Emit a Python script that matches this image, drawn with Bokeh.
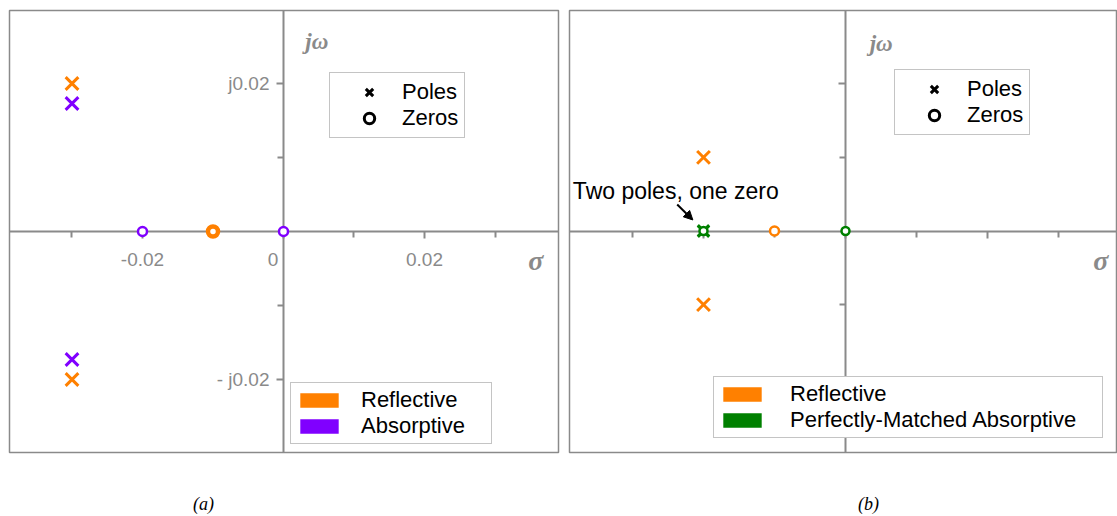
from bokeh.plotting import figure
from bokeh.models import (Range1d, LinearAxis, FixedTicker, Legend, LegendItem,
                          Label, Arrow, NormalHead)
from bokeh.layouts import row, column
from bokeh.embed import file_html
from bokeh.resources import INLINE

NAN = float("nan")

# ---------------- data ----------------
# panel (a)
refl_a_pole_x = [-0.03, -0.03]
refl_a_pole_y = [0.02, -0.02]
refl_a_zero_x = [-0.01]
refl_a_zero_y = [0.0]
abs_a_pole_x = [-0.03, -0.03]
abs_a_pole_y = [0.0173, -0.0173]
abs_a_zero_x = [-0.02, 0.0]
abs_a_zero_y = [0.0, 0.0]
# panel (b)
refl_b_pole_x = [-0.02, -0.02]
refl_b_pole_y = [0.01, -0.01]
refl_b_zero_x = [-0.01]
refl_b_zero_y = [0.0]
pm_b_pole_x = [-0.02, -0.02]
pm_b_pole_y = [0.0, 0.0]
pm_b_zero_x = [-0.02, 0.0]
pm_b_zero_y = [0.0, 0.0]

x_major_ticks = [-0.02, 0.0, 0.02]
x_minor_ticks = [-0.03, -0.01, 0.01, 0.03]
y_major_ticks = [-0.02, 0.02]
y_minor_ticks = [-0.01, 0.01]
x_tick_labels_a = {-0.02: "-0.02", 0.0: "0\u2007\u2007", 0.02: "0.02"}
y_tick_labels_a = {-0.02: "- j0.02", 0.02: "j0.02"}
captions = ["(a)", "(b)"]

ORANGE = "#FF8000"
PURPLE = "#8000FF"
GREEN = "#008000"
GRAY = "#8a8a8a"
SANS = "Liberation Sans"
SERIF = "Liberation Serif"


def base_fig(width, xr, yr, mb):
    p = figure(width=width, height=490, x_range=Range1d(*xr), y_range=Range1d(*yr),
               x_axis_type=None, y_axis_type=None, output_backend="svg",
               toolbar_location=None, min_border_left=mb[0], min_border_right=mb[1],
               min_border_top=mb[2], min_border_bottom=mb[3])
    p.outline_line_color = GRAY
    p.outline_line_width = 1.5
    p.background_fill_color = "white"
    p.border_fill_color = "white"
    return p


def add_axes(p, xlabels, ylabels):
    common = dict(fixed_location=0, axis_line_color=GRAY, axis_line_width=2,
                  major_tick_line_color=GRAY, minor_tick_line_color=GRAY,
                  major_tick_line_width=2, minor_tick_line_width=2,
                  major_tick_in=0, minor_tick_in=0, major_tick_out=7, minor_tick_out=6,
                  major_label_text_color=GRAY, major_label_text_font=SANS,
                  major_label_text_font_size="19px")
    xa = LinearAxis(ticker=FixedTicker(ticks=x_major_ticks, minor_ticks=x_minor_ticks),
                    major_label_overrides=xlabels, major_label_standoff=10, **common)
    ya = LinearAxis(ticker=FixedTicker(ticks=y_major_ticks, minor_ticks=y_minor_ticks),
                    major_label_overrides=ylabels, major_label_standoff=7, **common)
    xa.level = "underlay"
    ya.level = "underlay"
    p.add_layout(xa, "below")
    p.add_layout(ya, "left")


def add_legend(p, items, loc, gw, gh, standoff, pad, spacing, label_h, label_w):
    lg = Legend(items=items, location=loc, orientation="vertical", margin=0,
                padding=pad, spacing=spacing, glyph_width=gw, glyph_height=gh,
                label_standoff=standoff, label_height=label_h, label_width=label_w,
                label_text_font=SANS, label_text_font_size="22px",
                label_text_color="black", border_line_color=GRAY,
                border_line_width=1.2, background_fill_color="white",
                background_fill_alpha=1.0)
    p.add_layout(lg, "center")


def marker_legend(p, loc):
    rp = p.scatter(x=[NAN], y=[NAN], marker="x", size=12, line_color="black", line_width=3)
    rz = p.scatter(x=[NAN], y=[NAN], marker="circle", size=10, line_color="black",
                   fill_color="white", line_width=3)
    add_legend(p, [LegendItem(label="Poles", renderers=[rp]),
                   LegendItem(label="Zeros", renderers=[rz])],
               loc, gw=66, gh=26, standoff=0, pad=6, spacing=0, label_h=26, label_w=20)


def color_legend(p, labels, colors, loc, standoff, label_w):
    items = []
    for lab, col in zip(labels, colors):
        r = p.rect(x=[NAN], y=[NAN], width=1, height=1, fill_color=col, line_color=None)
        items.append(LegendItem(label=lab, renderers=[r]))
    add_legend(p, items, loc, gw=48, gh=18, standoff=standoff, pad=4, spacing=0,
               label_h=24, label_w=label_w)


def axis_names(p, jx, jy, sx, sy):
    p.add_layout(Label(x=jx, y=jy, text="jω", text_font=SERIF, text_font_style="bold italic",
                       text_font_size="23px", text_color=GRAY, text_baseline="middle",
                       text_align="left"))
    p.add_layout(Label(x=sx, y=sy, text="σ", text_font=SERIF, text_font_style="bold italic",
                       text_font_size="28px", text_color=GRAY, text_baseline="middle",
                       text_align="left"))


# ---------------- panel (a) ----------------
pa = base_fig(568, (-0.038865, 0.039007), (-0.029865, 0.029865), (9, 10, 10, 38))
add_axes(pa, x_tick_labels_a, y_tick_labels_a)

pa.scatter(refl_a_pole_x, refl_a_pole_y, marker="x", size=18, line_color=ORANGE, line_width=3)
pa.scatter(abs_a_pole_x, abs_a_pole_y, marker="x", size=18, line_color=PURPLE, line_width=3)
pa.scatter(abs_a_zero_x, abs_a_zero_y, marker="circle", size=9, line_color=PURPLE,
           fill_color="white", line_width=2.5)
pa.scatter(refl_a_zero_x, refl_a_zero_y, marker="circle", size=10, line_color=ORANGE,
           fill_color="white", line_width=4.5)

axis_names(pa, 0.0031, 0.0257, 0.0347, -0.0039)
marker_legend(pa, (320, 314))
color_legend(pa, ["Reflective", "Absorptive"], [ORANGE, PURPLE], (281, 8), 18, 126)

# ---------------- panel (b) ----------------
pb = base_fig(549, (-0.038873, 0.038169), (-0.030067, 0.029933), (1, 1, 9, 34))
add_axes(pb, {t: "" for t in x_major_ticks}, {t: "" for t in y_major_ticks})

pb.scatter(refl_b_pole_x, refl_b_pole_y, marker="x", size=18, line_color=ORANGE, line_width=3)
pb.scatter(refl_b_zero_x, refl_b_zero_y, marker="circle", size=9, line_color=ORANGE,
           fill_color="white", line_width=2.5)
pb.scatter(pm_b_pole_x, pm_b_pole_y, marker="x", size=16, line_color=GREEN, line_width=3)
pb.scatter(pm_b_zero_x, pm_b_zero_y, marker="circle", size=8, line_color=GREEN,
           fill_color="white", line_width=2.5)

axis_names(pb, 0.0034, 0.0255, 0.0349, -0.0040)
marker_legend(pb, (325, 317))
color_legend(pb, ["Reflective", "Perfectly-Matched Absorptive"], [ORANGE, GREEN],
             (144, 14), 24, 308)

pb.add_layout(Label(x=-0.0384, y=0.0054, text="Two poles, one zero", text_font=SANS,
                    text_font_size="23px", text_color="black", text_align="left",
                    text_baseline="middle"))
pb.add_layout(Arrow(end=NormalHead(size=9, fill_color="black", line_color="black"),
                    x_start=-0.0237, y_start=0.0036, x_end=-0.0215, y_end=0.0015,
                    line_color="black", line_width=2))

# ---------------- captions strip ----------------
pc = figure(width=1117, height=26, x_range=Range1d(0, 1117), y_range=Range1d(0, 26),
            x_axis_type=None, y_axis_type=None, output_backend="svg",
            toolbar_location=None, min_border=0)
pc.outline_line_color = None
pc.background_fill_color = "white"
pc.border_fill_color = "white"
for cx, txt in zip([203, 868], captions):
    pc.add_layout(Label(x=cx, y=13, text=txt, text_font=SERIF, text_font_style="italic",
                        text_font_size="18px", text_color="black", text_align="center",
                        text_baseline="middle"))

layout = column(row(pa, pb), pc)
open("out.html", "w").write(file_html(layout, INLINE))
